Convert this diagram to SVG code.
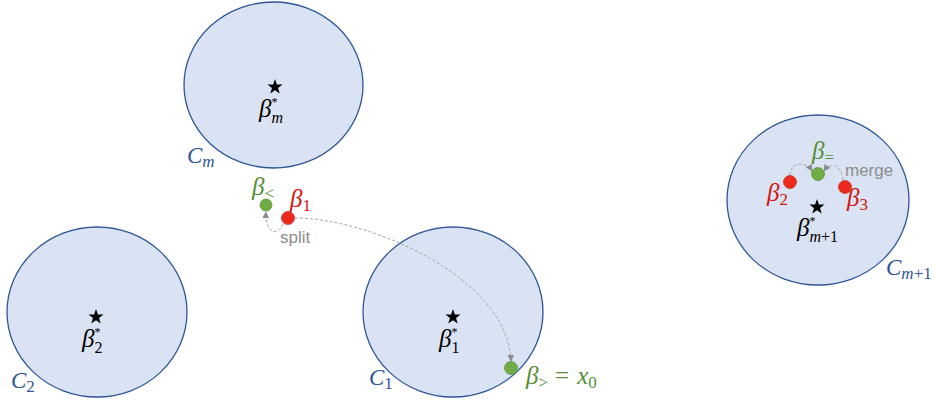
<svg xmlns="http://www.w3.org/2000/svg" width="935" height="402" viewBox="0 0 935 402">
<style>
.cl{fill:#DAE3F3;stroke:#2F5597;stroke-width:1.3}
.m{font-family:"Liberation Serif",serif;font-style:italic;font-size:25px}
.c{font-family:"Liberation Serif",serif;font-style:italic;font-size:23px}
.s{font-style:normal;font-size:17px}
.si{font-style:italic;font-size:17px}
.sb{font-style:normal;font-size:16px}
.sbi{font-style:italic;font-size:16px}
.sup{font-style:normal;font-size:12px}
.blk{fill:#000}
.blu{fill:#2F5597}
.grn{fill:#548F35}
.red{fill:#D0160E}
.gray{font-family:"Liberation Sans",sans-serif;font-size:17px;fill:#8C8C8C}
.rd{fill:#EE2A1E;stroke:#C0392B;stroke-width:0.8}
.gd{fill:#70AD47;stroke:#5E9439;stroke-width:0.8}
.con{fill:none;stroke:#A6A6A6;stroke-width:1;stroke-dasharray:3 2}
</style>
<defs>
<polygon id="star" points="0,-8 1.88,-2.59 7.61,-2.47 3.04,0.99 4.7,6.47 0,3.2 -4.7,6.47 -3.04,0.99 -7.61,-2.47 -1.88,-2.59" fill="#000"/>
<marker id="ah" viewBox="0 0 10 10" refX="9" refY="5" markerWidth="7" markerHeight="7" markerUnits="userSpaceOnUse" orient="auto">
<path d="M0,0 L10,5 L0,10 z" fill="#8C8C8C"/>
</marker>
</defs>

<g id="Cm">
<ellipse class="cl" cx="273.5" cy="85" rx="89.5" ry="83"/>
<use href="#star" x="275" y="87"/>
<text class="m blk" x="259" y="117">β<tspan class="sup" dy="-11">*</tspan><tspan class="sbi" dx="-6" dy="17">m</tspan></text>
<text class="c blu" x="187" y="163">C<tspan class="si" dy="4">m</tspan></text>
</g>

<g id="C2">
<ellipse class="cl" cx="97" cy="312" rx="90" ry="85"/>
<use href="#star" x="96" y="317"/>
<text class="m blk" x="82" y="347">β<tspan class="sup" dy="-11">*</tspan><tspan class="sb" dx="-6" dy="17">2</tspan></text>
<text class="c blu" x="11" y="388">C<tspan class="s" dy="4">2</tspan></text>
</g>

<g id="C1">
<ellipse class="cl" cx="453" cy="312" rx="90" ry="85"/>
<use href="#star" x="453" y="317"/>
<text class="m blk" x="439" y="347">β<tspan class="sup" dy="-11">*</tspan><tspan class="sb" dx="-6" dy="17">1</tspan></text>
<text class="c blu" x="369" y="385">C<tspan class="s" dy="4">1</tspan></text>
</g>

<g id="Cm1">
<ellipse class="cl" cx="818" cy="200" rx="91" ry="85"/>
<use href="#star" x="817" y="207"/>
<text class="m blk" x="797" y="236">β<tspan class="sup" dy="-11">*</tspan><tspan class="sbi" dx="-6" dy="17">m</tspan><tspan class="sb">+1</tspan></text>
<text class="c blu" x="886" y="275">C<tspan class="si" dy="4">m</tspan><tspan class="s">+1</tspan></text>
</g>

<g id="beta-lt">
<circle class="gd" cx="266" cy="205" r="6"/>
<text class="m grn" x="252" y="195">β<tspan class="s" dy="4">&lt;</tspan></text>
</g>

<g id="beta-1">
<circle class="rd" cx="288" cy="218" r="6.5"/>
<text class="m red" x="290" y="207">β<tspan class="s" dy="4">1</tspan></text>
</g>

<g id="beta-gt">
<circle class="gd" cx="511" cy="368" r="6.5"/>
<text class="m grn" x="526" y="384">β<tspan class="s" dy="4">&gt;</tspan><tspan dx="7" dy="-4" style="font-style:normal">=</tspan><tspan dx="8">x</tspan><tspan class="s" dy="4">0</tspan></text>
</g>

<g id="beta-eq">
<circle class="gd" cx="818" cy="174" r="6.5"/>
<text class="m grn" x="812" y="159">β<tspan class="s" dy="4">=</tspan></text>
</g>

<g id="beta-2">
<circle class="rd" cx="790" cy="182" r="6.5"/>
<text class="m red" x="767" y="201">β<tspan class="s" dy="4">2</tspan></text>
</g>

<g id="beta-3">
<circle class="rd" cx="845" cy="187" r="6.5"/>
<text class="m red" x="847" y="206">β<tspan class="s" dy="4">3</tspan></text>
</g>

<g id="connectors">
<path class="con" d="M295,218 C370,218 508,278 511,361" marker-end="url(#ah)"/>
<path class="con" d="M283,224 C279,235 265,236 266,212" marker-end="url(#ah)"/>
<path class="con" d="M790,175 C790,162 806,161 812,171" marker-end="url(#ah)"/>
<path class="con" d="M843,180 C842,164 830,162 824,171" marker-end="url(#ah)"/>
<text class="gray" x="280" y="243">split</text>
<text class="gray" x="845" y="176">merge</text>
</g>
</svg>
